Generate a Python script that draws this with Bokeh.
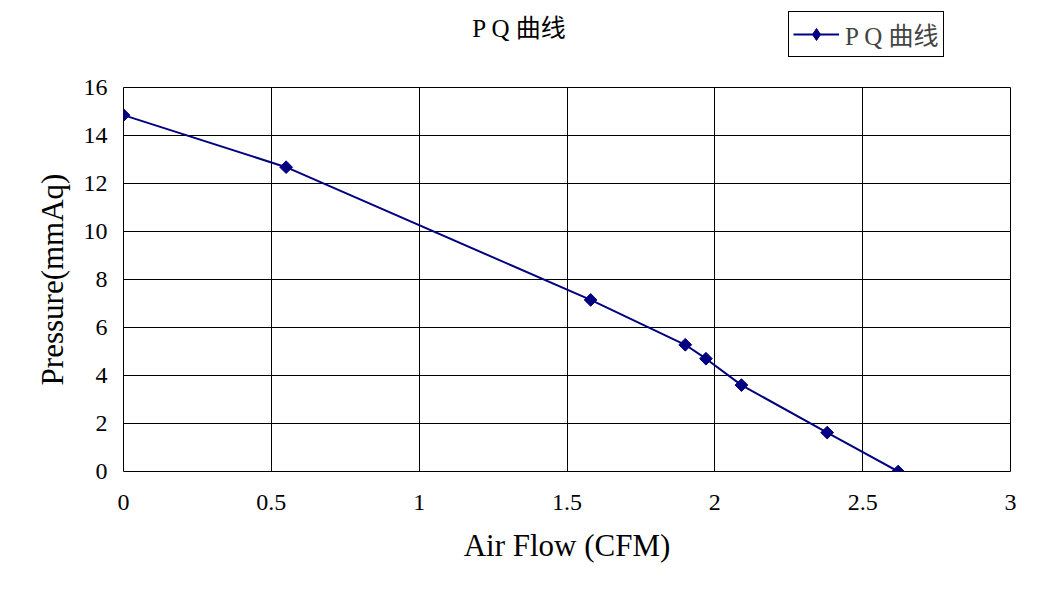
import math
from bokeh.plotting import figure
from bokeh.layouts import column
from bokeh.models import Range1d, FixedTicker, Legend, LegendItem, Label, CustomJSTickFormatter
from bokeh.embed import file_html
from bokeh.resources import INLINE

# data
air_flow = [0.0, 0.55, 1.58, 1.90, 1.97, 2.09, 2.38, 2.62]
pressure = [14.85, 12.68, 7.15, 5.28, 4.70, 3.60, 1.62, 0.0]
x_ticks = [0, 0.5, 1, 1.5, 2, 2.5, 3]
y_ticks = [0, 2, 4, 6, 8, 10, 12, 14, 16]
series_name = "P Q 曲线"
title_text = "P Q 曲线"
x_label = "Air Flow (CFM)"
y_label = "Pressure(mmAq)"

FONT = "'Liberation Serif', 'Noto Sans CJK SC', serif"
NAVY = "#000080"

# ---------- header strip: title + legend ----------
head = figure(width=1024, height=75, output_backend="svg", toolbar_location=None,
              x_range=Range1d(0, 3), y_range=Range1d(100, 101),
              x_axis_type=None, y_axis_type=None,
              min_border_left=123, min_border_right=14, min_border_top=0, min_border_bottom=0)
head.outline_line_color = None
head.background_fill_color = "white"
head.border_fill_color = "white"
head.grid.visible = False

h_ln = head.line(air_flow, pressure, line_color=NAVY, line_width=2)
h_mk = head.scatter(air_flow, pressure, marker="diamond", size=15,
                    fill_color=NAVY, line_color=NAVY)

legend = Legend(items=[LegendItem(label=series_name, renderers=[h_ln, h_mk])],
                location=(665, 18), orientation="vertical",
                label_text_font=FONT, label_text_font_size="25px",
                border_line_color="black", border_line_width=1, border_line_alpha=1.0,
                background_fill_color="white", background_fill_alpha=1.0,
                padding=4, margin=0, glyph_width=46, glyph_height=30,
                label_standoff=6, label_height=30, spacing=0)
head.add_layout(legend, "center")

title = Label(x=396, y=47, x_units="screen", y_units="screen", text=title_text,
              text_font=FONT, text_font_size="25px", text_color="black",
              text_align="center", text_baseline="middle")
head.add_layout(title)

# ---------- main chart ----------
p = figure(width=1024, height=509, output_backend="svg", toolbar_location=None,
           x_range=Range1d(0, 3), y_range=Range1d(0, 16),
           min_border_left=123, min_border_right=14, min_border_top=12, min_border_bottom=113)

p.background_fill_color = "white"
p.border_fill_color = "white"
p.outline_line_color = "black"
p.outline_line_width = 1
p.outline_line_alpha = 1.0

for ax in (p.xaxis[0], p.yaxis[0]):
    ax.axis_line_color = None
    ax.major_tick_line_color = None
    ax.minor_tick_line_color = None
    ax.major_tick_out = 0
    ax.major_tick_in = 0
    ax.minor_tick_out = 0
    ax.major_label_text_font = FONT
    ax.major_label_text_font_size = "24px"
    ax.major_label_text_color = "black"
    ax.axis_label_text_font = FONT
    ax.axis_label_text_font_size = "31px"
    ax.axis_label_text_font_style = "normal"
    ax.axis_label_text_color = "black"

p.xaxis.ticker = FixedTicker(ticks=x_ticks)
p.yaxis.ticker = FixedTicker(ticks=y_ticks)
p.xaxis.formatter = CustomJSTickFormatter(code="return String(tick);")
p.xaxis.major_label_standoff = 23
p.yaxis.major_label_standoff = 16
p.xaxis.axis_label = x_label
p.yaxis.axis_label = y_label
p.xaxis.axis_label_standoff = 15
p.yaxis.axis_label_standoff = 11

p.xgrid.ticker = FixedTicker(ticks=x_ticks)
p.ygrid.ticker = FixedTicker(ticks=y_ticks)
for g in (p.xgrid[0], p.ygrid[0]):
    g.grid_line_color = "black"
    g.grid_line_width = 1
    g.grid_line_alpha = 1.0

p.line(air_flow, pressure, line_color=NAVY, line_width=2)
p.scatter(air_flow, pressure, marker="square", size=9, angle=math.pi / 4,
          fill_color=NAVY, line_color=NAVY)

layout = column(head, p, spacing=0)
open("out.html", "w").write(file_html(layout, INLINE))
